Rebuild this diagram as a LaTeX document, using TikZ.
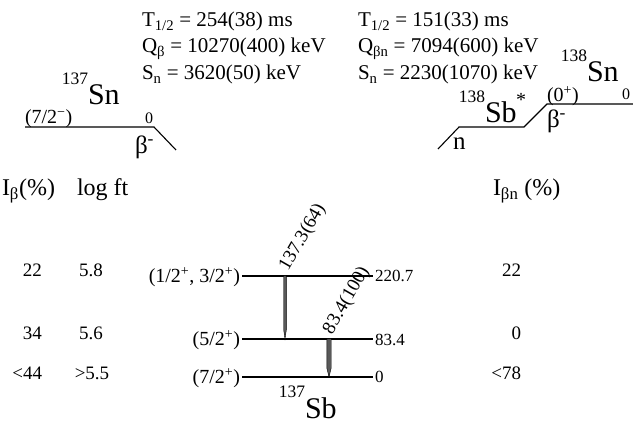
\documentclass[tikz,border=0pt]{standalone}
\usepackage{fontspec}
\setmainfont{Liberation Serif}
\usetikzlibrary{calc}
\begin{document}
\begin{tikzpicture}[x=1pt,y=-1pt,
  every node/.style={inner sep=0pt, outer sep=0pt},
  lvl/.style={line width=1.1pt},
  hdr/.style={anchor=base west, font=\fontsize{21}{24}\selectfont},
  colhdr/.style={anchor=base west, font=\fontsize{24}{26}\selectfont},
  big/.style={anchor=base west, font=\fontsize{30}{33}\selectfont},
  bigsup/.style={anchor=base east, font=\fontsize{17.5}{19}\selectfont, yshift=20pt},
  jp/.style={anchor=base east, font=\fontsize{20}{22}\selectfont},
  en/.style={anchor=base west, font=\fontsize{17}{19}\selectfont},
  col/.style={font=\fontsize{19}{21}\selectfont},
  small/.style={font=\fontsize{20}{22}\selectfont},
  zero/.style={font=\fontsize{16}{18}\selectfont},
  decay/.style={anchor=base west, font=\fontsize{25}{27}\selectfont},
  gam/.style={anchor=base west, font=\fontsize{19}{21}\selectfont, rotate=60},
  gfill/.style={fill=black!65, draw=black, line width=0.4pt}
]
\useasboundingbox (0,0) rectangle (633,425);

% header texts
\node[hdr] (t1) at (142,27) {T\textsubscript{1/2} = 254(38) ms};
\node[hdr] (q1) at (142,53) {Q\textsubscript{β} = 10270(400) keV};
\node[hdr] (s1) at (142,80) {S\textsubscript{n} = 3620(50) keV};
\node[hdr] (t2) at (358,27) {T\textsubscript{1/2} = 151(33) ms};
\node[hdr] (q2) at (358,53) {Q\textsubscript{βn} = 7094(600) keV};
\node[hdr] (s2) at (358,80) {S\textsubscript{n} = 2230(1070) keV};

% 137Sn parent
\coordinate (snL) at (25,127);
\coordinate (snR) at (154,127);
\coordinate (snB) at (176,150);
\draw[lvl] (snL) -- (snR) -- (snB);
\node[big] (snlab) at (88,105) {Sn};
\node[bigsup] (snmass) at (snlab.base west) {137};
\node[anchor=base west, small] (snjp) at (25,124) {(7/2\textsuperscript{−})};
\node[anchor=base west, zero] (sne) at (145,124) {0};
\node[decay] (snbeta) at (135,154) {β\textsuperscript{-}};

% 138Sb* and 138Sn
\coordinate (sbA) at (438,149);
\coordinate (sbL) at (459,127);
\coordinate (sbR) at (524,127);
\coordinate (sn8L) at (547,104);
\coordinate (sn8R) at (633,104);
\draw[lvl] (sbA) -- (sbL) -- (sbR) -- (sn8L) -- (sn8R);
\node[decay] (nlab) at (453,150) {n};
\node[big] (sblab) at (485,123) {Sb};
\node[bigsup] (sbmass) at (sblab.base west) {138};
\node[anchor=base west, font=\fontsize{20}{22}\selectfont] (star) at (516,107) {*};
\node[decay] (betaR) at (547,128) {β\textsuperscript{-}};
\node[big] (sn8lab) at (587,82) {Sn};
\node[bigsup] (sn8mass) at (sn8lab.base west) {138};
\node[anchor=base west, small] (sn8jp) at (547,102) {(0\textsuperscript{+})};
\node[anchor=base west, zero] (sn8e) at (622,100) {0};

% column headers
\node[colhdr] (ib) at (2,196) {I\textsubscript{β}(\%)};
\node[colhdr] (lft) at (77,196) {log ft};
\node[colhdr] (ibn) at (493,196) {I\textsubscript{βn} (\%)};

% 137Sb levels
\coordinate (l2L) at (242,276); \coordinate (l2R) at (373,276);
\coordinate (l1L) at (242,339); \coordinate (l1R) at (373,339);
\coordinate (l0L) at (242,377); \coordinate (l0R) at (373,377);
\draw[lvl] (l2L) -- (l2R);
\draw[lvl] (l1L) -- (l1R);
\draw[lvl] (l0L) -- (l0R);
\node[jp] (jp2) at ($(l2L)+(-2,7)$) {(1/2\textsuperscript{+}, 3/2\textsuperscript{+})};
\node[jp] (jp1) at ($(l1L)+(-2,7)$) {(5/2\textsuperscript{+})};
\node[jp] (jp0) at ($(l0L)+(-2,7)$) {(7/2\textsuperscript{+})};
\node[en] (e2) at ($(l2R)+(2,6)$) {220.7};
\node[en] (e1) at ($(l1R)+(2,6)$) {83.4};
\node[en] (e0) at ($(l0R)+(2,6)$) {0};

% gamma transitions
\coordinate (g1t) at (285,276); \coordinate (g1b) at (285,339);
\coordinate (g2t) at (329,339); \coordinate (g2b) at (329,377);
\path[gfill] ($(g1t)+(-1.3,0)$) -- ($(g1t)+(1.3,0)$) -- ($(g1b)+(1.3,-9)$) -- (g1b) -- ($(g1b)+(-1.3,-9)$) -- cycle;
\path[gfill] ($(g2t)+(-2.2,0)$) -- ($(g2t)+(2.2,0)$) -- ($(g2b)+(2.2,-9)$) -- (g2b) -- ($(g2b)+(-2.2,-9)$) -- cycle;
\node[gam] (g1lab) at ($(g1t)+(3,-4)$) {137.3(64)};
\node[gam] (g2lab) at ($(g2t)+(3,-4)$) {83.4(100)};

% daughter label
\node[big] (sblab2) at (305,418) {Sb};
\node[bigsup] (sbmass2) at (sblab2.base west) {137};

% intensity columns
\node[col, anchor=base east] (ib2) at (42,277) {22};
\node[col, anchor=base east] (ib1) at (42,340) {34};
\node[col, anchor=base east] (ib0) at (42,380) {<44};
\node[col, anchor=base] (ft2) at (91,277) {5.8};
\node[col, anchor=base] (ft1) at (91,340) {5.6};
\node[col, anchor=base] (ft0) at (92,380) {>5.5};
\node[col, anchor=base east] (in2) at (521,277) {22};
\node[col, anchor=base east] (in1) at (521,340) {0};
\node[col, anchor=base east] (in0) at (521,380) {<78};
\end{tikzpicture}
\end{document}
